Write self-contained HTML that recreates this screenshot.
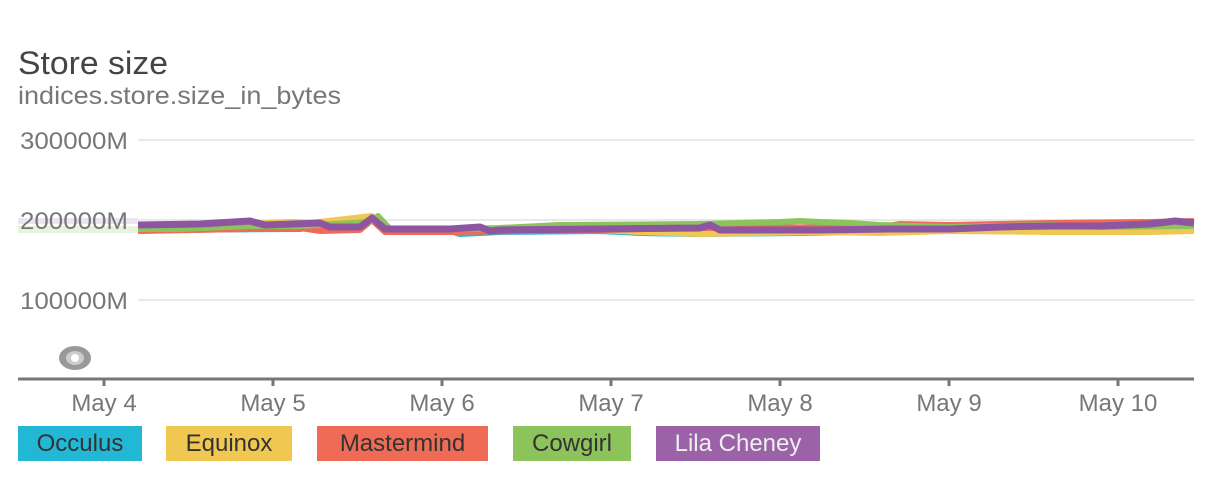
<!DOCTYPE html>
<html><head><meta charset="utf-8"><style>
html,body{margin:0;padding:0;background:#fff;width:1218px;height:504px;overflow:hidden;font-family:"Liberation Sans",sans-serif}
.lg{position:absolute;top:426px;height:35px;line-height:35px;font-size:24px;color:#333;text-align:center}
</style></head><body>
<svg width="1218" height="504" style="position:absolute;left:0;top:0" font-family="Liberation Sans, sans-serif">
<text x="18" y="74" font-size="32" fill="#444" textLength="150" lengthAdjust="spacingAndGlyphs">Store size</text>
<text x="18" y="104" font-size="25" fill="#777" textLength="323" lengthAdjust="spacingAndGlyphs">indices.store.size_in_bytes</text>
<g stroke="#e8e8e8" stroke-width="2"><line x1="138" y1="140" x2="1194" y2="140"/><line x1="138" y1="220" x2="1194" y2="220"/><line x1="138" y1="300" x2="1194" y2="300"/></g>
<rect x="18" y="218" width="120" height="6" fill="#e6d8ec" opacity="0.7"/>
<rect x="18" y="226" width="120" height="7" fill="#dcefd0" opacity="0.7"/>
<g font-size="24" fill="#777"><text x="20" y="149" textLength="108" lengthAdjust="spacingAndGlyphs">300000M</text><text x="20" y="229" textLength="108" lengthAdjust="spacingAndGlyphs">200000M</text><text x="20" y="309" textLength="108" lengthAdjust="spacingAndGlyphs">100000M</text></g>
<g fill="none" stroke-width="6" stroke-linejoin="round">
<polyline stroke="#23b7d6" points="138,230 300,229 372,218 385,231 450,231 460,234 500,232 600,231 640,233 700,234 800,233 900,231 1000,231 1100,231 1194,229"/>
<polyline stroke="#f0c851" points="138,229 200,226 290,222 310,223 372,216 385,231 450,231 600,230 640,232 700,234 820,232 880,233 950,231 1050,232 1150,232 1194,231"/>
<polyline stroke="#ef6b55" points="138,231 300,228 320,231 360,230 372,220 385,232 450,232 600,230 700,228 880,227 900,224 950,225 1050,223 1150,222 1194,221"/>
<polyline stroke="#8cc35a" points="138,229 180,229 250,226 300,226 370,222 378,216 390,229 460,229 500,228 560,225 700,224 780,222 800,221 820,222 850,223 880,225 950,227 1050,225 1100,227 1194,226"/>
<polyline stroke="#8e55a0" stroke-width="7" points="138,225 200,224 250,221 265,225 320,223 330,227 360,227 372,218 385,229 450,229 480,227 490,231 500,230 600,229 700,228 710,225 720,230 820,230 890,229 950,229 1000,227 1050,226 1100,226 1150,224 1175,221 1194,223"/>
</g>
<ellipse cx="75" cy="358" rx="16" ry="12" fill="#999"/><ellipse cx="75" cy="358" rx="9" ry="7" fill="#ccc"/><circle cx="75" cy="358" r="4" fill="#fff"/>
<line x1="18" y1="379" x2="1194" y2="379" stroke="#777" stroke-width="3"/>
<g stroke="#777" stroke-width="3"><line x1="104" y1="379" x2="104" y2="386"/><line x1="273" y1="379" x2="273" y2="386"/><line x1="442" y1="379" x2="442" y2="386"/><line x1="611" y1="379" x2="611" y2="386"/><line x1="780" y1="379" x2="780" y2="386"/><line x1="949" y1="379" x2="949" y2="386"/><line x1="1118" y1="379" x2="1118" y2="386"/></g>
<g font-size="24" fill="#777" text-anchor="middle"><text x="104" y="411">May 4</text><text x="273" y="411">May 5</text><text x="442" y="411">May 6</text><text x="611" y="411">May 7</text><text x="780" y="411">May 8</text><text x="949" y="411">May 9</text><text x="1118" y="411">May 10</text></g>
</svg>
<div class="lg" style="left:18px;width:124px;background:#23b7d6">Occulus</div>
<div class="lg" style="left:166px;width:126px;background:#f0c851">Equinox</div>
<div class="lg" style="left:317px;width:171px;background:#ef6b55">Mastermind</div>
<div class="lg" style="left:513px;width:118px;background:#8cc35a">Cowgirl</div>
<div class="lg" style="left:656px;width:164px;background:#9b62a8;color:#eee">Lila Cheney</div>
</body></html>
